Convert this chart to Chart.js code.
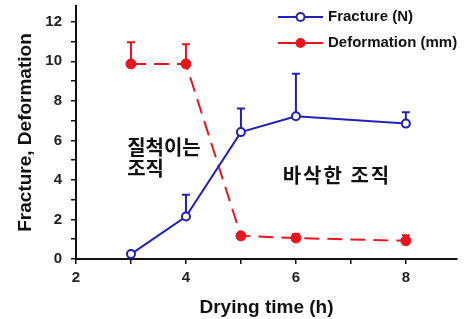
<!DOCTYPE html>
<html>
<head>
<meta charset="utf-8">
<script src="https://cdn.jsdelivr.net/npm/chart.js@4"></script>
<style>
  html, body { margin: 0; padding: 0; background: #fff; }
  #wrap { width: 469px; height: 319px; }
</style>
</head>
<body>
<div id="wrap"><canvas id="myChart" width="469" height="319"></canvas></div>
<script>
const dryingTime = [3, 4, 5, 6, 8];
const fracture = [0.25, 2.15, 6.42, 7.22, 6.85];
const fractureErr = [0, 1.1, 1.2, 2.15, 0.58];
const deformation = [9.87, 9.87, 1.17, 1.06, 0.92];
const deformationErr = [1.1, 1.0, 0.1, 0.2, 0.28];
const seriesNames = ['Fracture (N)', 'Deformation (mm)'];
const notes = [
  {text: '질척이는', x: 2.93, y: 5.63, spacing: 0},
  {text: '조직', x: 2.93, y: 4.6, spacing: 0},
  {text: '바삭한 조직', x: 5.76, y: 4.24, spacing: 2}
];

const blue = '#2121b5';
const red = '#e8141e';
const fontFam = '"Liberation Sans", Arial, sans-serif';

const errorBars = {
  id: 'errorBars',
  beforeDatasetsDraw(chart) {
    const ctx = chart.ctx;
    const y = chart.scales.y;
    chart.data.datasets.forEach((ds, i) => {
      const meta = chart.getDatasetMeta(i);
      ctx.save();
      ctx.strokeStyle = ds.borderColor;
      ctx.lineWidth = 2;
      meta.data.forEach((pt, j) => {
        const e = ds.errs[j];
        if (!e) return;
        const top = y.getPixelForValue(ds.data[j].y + e);
        ctx.beginPath();
        ctx.moveTo(pt.x, pt.y);
        ctx.lineTo(pt.x, top);
        ctx.moveTo(pt.x - 4, top);
        ctx.lineTo(pt.x + 4, top);
        ctx.stroke();
      });
      ctx.restore();
    });
  }
};

const extras = {
  id: 'extras',
  afterDraw(chart) {
    const ctx = chart.ctx;
    const xs = chart.scales.x, ys = chart.scales.y;
    ctx.save();
    // notes
    ctx.fillStyle = '#111';
    ctx.font = 'bold 20px "Noto Sans CJK KR", sans-serif';
    ctx.textBaseline = 'middle';
    ctx.textAlign = 'left';
    notes.forEach(n => {
      ctx.letterSpacing = n.spacing + 'px';
      ctx.fillText(n.text, xs.getPixelForValue(n.x), ys.getPixelForValue(n.y));
    });
    ctx.letterSpacing = '0px';
    // legend
    const rows = [17, 43];
    chart.data.datasets.forEach((ds, i) => {
      const yy = rows[i];
      ctx.strokeStyle = ds.borderColor;
      ctx.lineWidth = 2;
      ctx.setLineDash([]);
      ctx.beginPath();
      ctx.moveTo(278, yy);
      ctx.lineTo(323, yy);
      ctx.stroke();
      ctx.beginPath();
      ctx.arc(300.5, yy, 4, 0, Math.PI * 2);
      ctx.fillStyle = ds.pointBackgroundColor;
      ctx.fill();
      ctx.stroke();
      ctx.fillStyle = '#111';
      ctx.font = 'bold 15px ' + fontFam;
      ctx.fillText(seriesNames[i], 328, yy);
    });
    ctx.restore();
  }
};

// one tick mark per whole unit, labels only on even values
const intTicks = scale => {
  const out = [];
  for (let v = Math.ceil(scale.min); v <= Math.floor(scale.max); v++) out.push({value: v});
  scale.ticks = out;
};

new Chart(document.getElementById('myChart').getContext('2d'), {
  type: 'line',
  data: {
    datasets: [{
      label: seriesNames[0],
      data: dryingTime.map((t, i) => ({x: t, y: fracture[i]})),
      errs: fractureErr,
      borderColor: blue,
      borderWidth: 2,
      pointBackgroundColor: '#fff',
      pointBorderColor: blue,
      pointBorderWidth: 2,
      pointRadius: 4,
      tension: 0
    }, {
      label: seriesNames[1],
      data: dryingTime.map((t, i) => ({x: t, y: deformation[i]})),
      errs: deformationErr,
      borderColor: red,
      borderWidth: 2,
      borderDash: [15, 8],
      pointBackgroundColor: red,
      pointBorderColor: red,
      pointBorderWidth: 1,
      pointRadius: 5,
      tension: 0
    }]
  },
  options: {
    responsive: false,
    animation: false,
    layout: {padding: {top: 5, right: 12, left: 0, bottom: 0}},
    plugins: {legend: {display: false}, tooltip: {enabled: false}},
    scales: {
      x: {
        type: 'linear',
        min: 2,
        max: 8.93,
        afterBuildTicks: intTicks,
        afterFit: s => { s.height = 60; s.paddingLeft = 0; s.paddingRight = 0; },
        border: {color: '#111', width: 2},
        grid: {drawOnChartArea: false, color: '#111', tickLength: 5, lineWidth: 1.5},
        ticks: {
          autoSkip: false,
          maxRotation: 0,
          padding: 5,
          color: '#222',
          font: {family: fontFam, size: 15, weight: 'bold'},
          callback: v => (v % 2 === 0 ? v : '')
        },
        title: {
          display: true,
          text: 'Drying time (h)',
          color: '#111',
          font: {family: fontFam, size: 19, weight: 'bold'},
          padding: {top: 3, bottom: 0}
        }
      },
      y: {
        min: 0,
        max: 12.8,
        afterBuildTicks: intTicks,
        afterFit: s => { s.width = 76; s.paddingTop = 0; s.paddingBottom = 0; },
        border: {color: '#111', width: 2},
        grid: {drawOnChartArea: false, color: '#111', tickLength: 5, lineWidth: 1.5},
        ticks: {
          autoSkip: false,
          padding: 9,
          color: '#222',
          font: {family: fontFam, size: 15, weight: 'bold'},
          callback: v => (v % 2 === 0 ? v : '')
        },
        title: {
          display: true,
          text: 'Fracture, Deformation',
          color: '#111',
          font: {family: fontFam, size: 19, weight: 'bold'},
          padding: {top: 14, bottom: 0}
        }
      }
    }
  },
  plugins: [errorBars, extras]
});
</script>
</body>
</html>
